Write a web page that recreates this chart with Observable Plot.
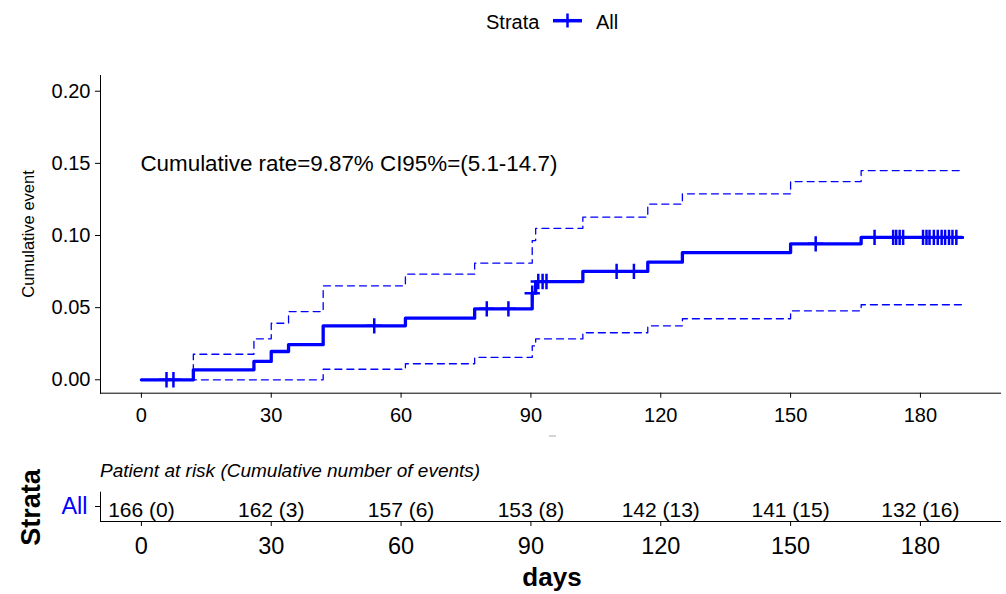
<!DOCTYPE html>
<html><head><meta charset="utf-8">
<script src="https://cdn.jsdelivr.net/npm/d3@7"></script>
<script src="https://cdn.jsdelivr.net/npm/@observablehq/plot@0.6"></script>
<style>
body{margin:0;background:#fff;}
#wrap{position:relative;width:1006px;height:594px;overflow:hidden;background:#fff;font-family:"Liberation Sans",Arial,sans-serif;}
#wrap > svg{position:absolute;left:0;}
.risk [aria-label="y-axis tick label"]{fill:#0000FF;}
</style></head><body><div id="wrap"></div>
<script>
// ---- data ----
const eventTimes = [0, 12, 26, 30, 34, 42, 61, 77, 90.3, 91.1, 102, 117, 125, 150, 166.3, 189.6];
const cumEvent   = [0, 0.0069, 0.0127, 0.0196, 0.0243, 0.0374, 0.0427, 0.0492, 0.0600, 0.0681, 0.0751, 0.0815, 0.0882, 0.0942, 0.0987, 0.0987];
const upperCI    = [0, 0.0177, 0.0284, 0.0392, 0.0473, 0.0651, 0.0732, 0.0808, 0.0965, 0.1050, 0.1127, 0.1217, 0.1289, 0.1374, 0.1450, 0.1450];
const lowerCI    = [0, 0, 0, 0, 0, 0.0073, 0.0111, 0.0155, 0.0235, 0.0283, 0.0326, 0.0374, 0.0423, 0.0478, 0.0520, 0.0520];
const censorTimes = [5.8, 7.4, 53.8, 79.8, 84.8, 90.3, 91.7, 92.7, 93.6, 109.8, 113.8, 155.8,
  169.4, 173.7, 174.4, 175.2, 176.0, 180.6, 181.4, 182.1, 183.1, 184.0, 184.9, 185.7, 186.6, 187.4, 188.3];
const xTicks = [0, 30, 60, 90, 120, 150, 180];
const yTicks = [0, 0.05, 0.10, 0.15, 0.20];
const riskTimes = [0, 30, 60, 90, 120, 150, 180];
const nAtRisk   = [166, 162, 157, 153, 142, 141, 132];
const nEvents   = [0, 3, 6, 8, 13, 15, 16];
const strata = ["All"];
const annotation = "Cumulative rate=9.87% CI95%=(5.1-14.7)";
const annotationX = 0, annotationY = 0.15;
const xDomain = [-9.45, 198.5];
const yDomain = [-0.0093, 0.2109];

const BLUE = "#0000FF";
const FONT = "'Liberation Sans', Arial, sans-serif";
const series = eventTimes.map((t, i) => ({t, est: cumEvent[i], lo: lowerCI[i], hi: upperCI[i]}));
const censors = censorTimes.map(t => ({t, est: cumEvent[d3.bisectRight(eventTimes, t) - 1]}));
const risk = riskTimes.map((t, i) => ({t, strata: strata[0], label: `${nAtRisk[i]} (${nEvents[i]})`}));

const wrap = document.getElementById("wrap");

const main = Plot.plot({
  width: 1006, height: 440,
  marginTop: 75, marginBottom: 47.3, marginLeft: 100, marginRight: 6,
  style: {fontFamily: FONT, fontSize: "20px", color: "#000", background: "transparent", overflow: "visible"},
  x: {domain: xDomain, ticks: xTicks, tickFormat: d => String(d), tickSize: 5, tickPadding: 9.5, line: true, label: null},
  y: {domain: yDomain, ticks: yTicks, tickFormat: d3.format(".2f"), tickSize: 5, tickPadding: 5, line: true, label: null},
  marks: [
    Plot.line(series, {x: "t", y: "hi", curve: "step-after", stroke: BLUE, strokeWidth: 1.3, strokeDasharray: "7,5"}),
    Plot.line(series, {x: "t", y: "lo", curve: "step-after", stroke: BLUE, strokeWidth: 1.3, strokeDasharray: "7,5"}),
    Plot.line(series, {x: "t", y: "est", curve: "step-after", stroke: BLUE, strokeWidth: 3.3}),
    Plot.dot(censors, {x: "t", y: "est", symbol: "plus", r: 5, stroke: BLUE, strokeWidth: 2.5}),
    Plot.text([annotation], {x: () => annotationX, y: () => annotationY, text: d => d, textAnchor: "start", fontSize: 22.4, fill: "#000", dx: -1})
  ]
});
main.style.top = "0px";
wrap.appendChild(main);

const riskPlot = Plot.plot({
  width: 1006, height: 144,
  marginTop: 41.7, marginBottom: 73, marginLeft: 100, marginRight: 6,
  className: "risk",
  style: {fontFamily: FONT, fontSize: "23.5px", color: "#000", background: "transparent", overflow: "visible"},
  x: {domain: xDomain, ticks: xTicks, tickFormat: d => String(d), tickSize: 5, tickPadding: 11, line: true, label: null},
  y: {domain: strata, tickSize: 5, tickPadding: 8, line: true, label: null},
  marks: [
    Plot.text(risk, {x: "t", y: "strata", text: "label", fontSize: 21, fill: "#000", dy: 4})
  ]
});
riskPlot.style.top = "450px";
wrap.appendChild(riskPlot);

// titles, legend and axis titles
const ov = d3.select(wrap).append("svg")
  .attr("width", 1006).attr("height", 594)
  .style("position", "absolute").style("left", "0px").style("top", "0px")
  .style("font-family", FONT);
ov.append("text").attr("x", 486).attr("y", 29.3).attr("font-size", 20).text("Strata");
ov.append("line").attr("x1", 553).attr("x2", 582).attr("y1", 20.7).attr("y2", 20.7).attr("stroke", BLUE).attr("stroke-width", 3.5);
ov.append("line").attr("x1", 567.5).attr("x2", 567.5).attr("y1", 13.5).attr("y2", 27.5).attr("stroke", BLUE).attr("stroke-width", 2.5);
ov.append("text").attr("x", 596).attr("y", 29.3).attr("font-size", 20).text(strata[0]);
ov.append("text").attr("transform", "translate(33.5,234) rotate(-90)").attr("text-anchor", "middle").attr("font-size", 16.5).text("Cumulative event");
ov.append("line").attr("x1", 549).attr("x2", 556).attr("y1", 436).attr("y2", 436).attr("stroke", "#aaa").attr("stroke-width", 1);
ov.append("text").attr("x", 100).attr("y", 476.7).attr("font-size", 19).attr("font-style", "italic").text("Patient at risk (Cumulative number of events)");
ov.append("text").attr("transform", "translate(39.5,507.5) rotate(-90)").attr("text-anchor", "middle").attr("font-size", 27).attr("font-weight", "bold").text("Strata");
ov.append("text").attr("x", 552).attr("y", 586).attr("text-anchor", "middle").attr("font-size", 26).attr("font-weight", "bold").text("days");
</script></body></html>
